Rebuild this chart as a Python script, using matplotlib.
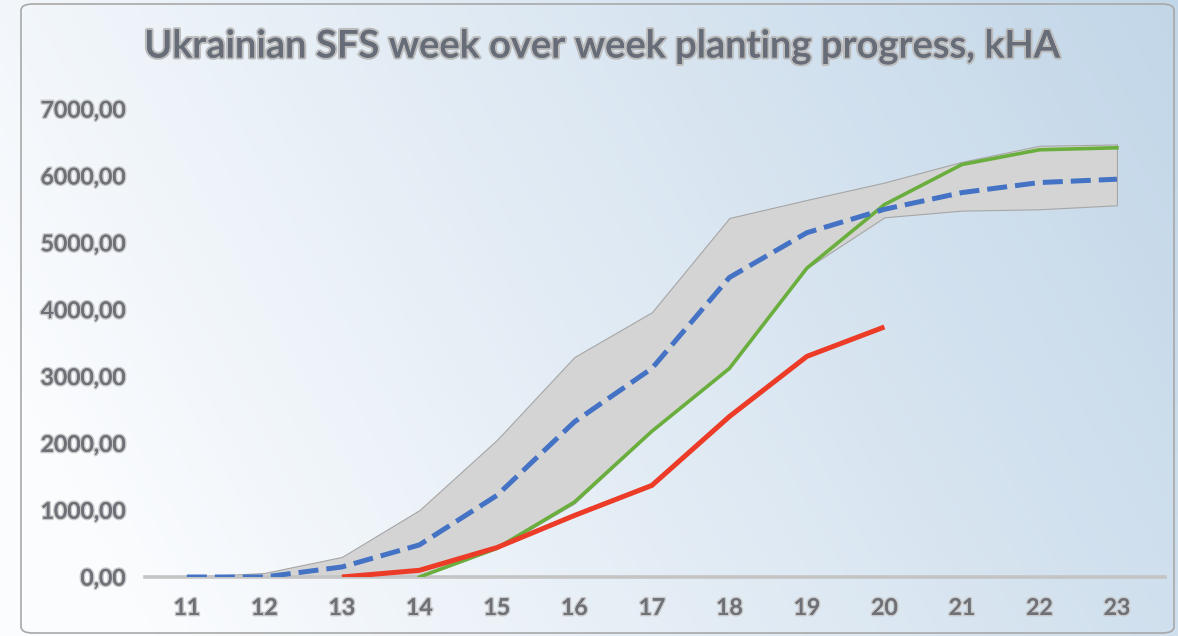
import numpy as np
import matplotlib
matplotlib.use("Agg")
import matplotlib.pyplot as plt
import matplotlib.patheffects as pe
from matplotlib.patches import FancyBboxPatch

# ---- data ----
weeks = [11, 12, 13, 14, 15, 16, 17, 18, 19, 20, 21, 22, 23]
band_max = [0, 60, 300, 1000, 2050, 3290, 3960, 5370, 5640, 5900, 6210, 6450, 6470]
band_min = [0, 0, 0, 0, 420, 1100, 2180, 3120, 4620, 5380, 5480, 5500, 5560]
average = [0, 0, 150, 480, 1220, 2320, 3120, 4480, 5150, 5500, 5750, 5900, 5950]
green_weeks = [14, 15, 16, 17, 18, 19, 20, 21, 22, 23]
green_vals = [0, 430, 1120, 2180, 3120, 4620, 5570, 6170, 6390, 6420]
red_weeks = [13, 14, 15, 16, 17, 18, 19, 20]
red_vals = [0, 100, 440, 920, 1370, 2400, 3300, 3740]
yticks = [0, 1000, 2000, 3000, 4000, 5000, 6000, 7000]
title = "Ukrainian SFS week over week planting progress, kHA"

W, H = 1178, 636
fig = plt.figure(figsize=(W / 100, H / 100), dpi=100)

# background gradient
bg = fig.add_axes([0, 0, 1, 1], zorder=-10)
gx = np.linspace(0, 1, 300)
gy = np.linspace(0, 1, 160)
X, Y = np.meshgrid(gx, gy)
t = np.clip(0.85 * X + 0.25 * (1 - Y) - 0.1, 0, 1)
c0 = np.array([0.985, 0.99, 0.997])
c1 = np.array([0.76, 0.84, 0.91])
img = c0[None, None, :] * (1 - t[..., None]) + c1[None, None, :] * t[..., None]
bg.imshow(img, extent=[0, 1, 0, 1], aspect='auto', origin='upper')
bg.set_xlim(0, 1); bg.set_ylim(0, 1)
bg.axis('off')

# frame
frame = FancyBboxPatch((21 / W, 3 / H), (1174 - 21) / W, (632 - 3) / H,
                       boxstyle="round,pad=0,rounding_size=0.01",
                       transform=fig.transFigure, fill=False,
                       edgecolor='#a8a8a8', linewidth=1.2)
fig.patches.append(frame)

ax = fig.add_axes([145 / W, 1 - 577 / H, (1165 - 145) / W, (577 - 109) / H])
ax.patch.set_alpha(0)
ax.set_xlim(10.46, 23.62)
ax.set_ylim(0, 7000)

ax.fill_between(weeks, band_min, band_max, color='#d4d4d4', edgecolor='#a6a6a6',
                linewidth=0.8, zorder=2)
ax.plot(green_weeks, green_vals, color='#6aae3e', linewidth=2.6, zorder=4,
        solid_joinstyle='round')
ax.plot(red_weeks, red_vals, color='#ec3b27', linewidth=3.6, zorder=5,
        solid_joinstyle='round', solid_capstyle='butt')
ax.plot(weeks, average, color='#4472c4', linewidth=3.6, linestyle=(0, (4, 1.6)),
        zorder=6, dash_capstyle='butt')

for s in ['top', 'right', 'left']:
    ax.spines[s].set_visible(False)
ax.spines['bottom'].set_color('#c4c4c4')
ax.spines['bottom'].set_linewidth(2.6)
ax.axhline(0, color='#fafafa', linewidth=1.3, zorder=1.5, clip_on=False)

txt_fx = [pe.withStroke(linewidth=2.2, foreground='#c8c8c8'), pe.Normal()]
ax.set_yticks(yticks)
ax.set_yticklabels([f"{v},00" for v in yticks])
ax.set_xticks(weeks)
ax.set_xticklabels([str(w) for w in weeks])
ax.tick_params(axis='both', length=0, labelsize=16.5, labelcolor='#6e7078')
ax.tick_params(axis='y', pad=14)
ax.tick_params(axis='x', pad=15)
for lab in ax.get_xticklabels() + ax.get_yticklabels():
    lab.set_fontfamily('Lato')
    lab.set_fontweight('semibold')
    lab.set_path_effects(txt_fx)

fig.text(603 / W, 1 - 47 / H, title, ha='center', va='center', fontsize=27.5,
         family='Lato', fontweight='semibold', color='#666c78',
         path_effects=[pe.withStroke(linewidth=3, foreground='#bcbcbc'), pe.Normal()])

fig.savefig('out.png', dpi=100)
